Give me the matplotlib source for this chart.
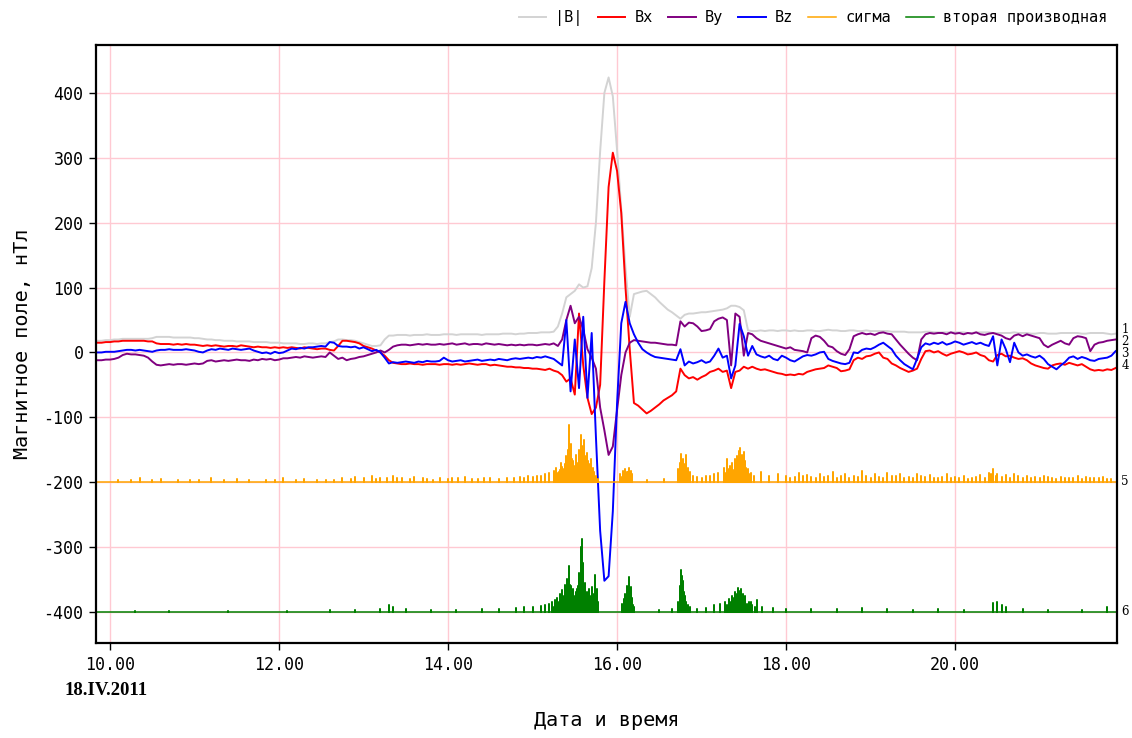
import numpy as np
import matplotlib
matplotlib.use("Agg")
import matplotlib.pyplot as plt

# Sampling of the magnetometer components: start time and step, hours
T_START = 9.85
T_STEP = 0.05

# Total field |B|, nT (one row = one hour of samples)
B_ABS = [
    18, 18, 19, 19, 20, 20, 21, 21, 21, 21, 21, 21, 21, 22, 24, 24, 24, 24, 23, 23,
    23, 23, 23, 22, 22, 21, 20, 20, 19, 19, 18, 18, 18, 17, 17, 17, 17, 16, 16, 16,
    16, 15, 15, 15, 14, 14, 14, 14, 13, 13, 14, 14, 13, 14, 14, 16, 17, 20, 20, 19,
    19, 18, 16, 14, 12, 10, 10, 11, 20, 26, 26, 27, 27, 27, 26, 27, 27, 27, 28, 27,
    27, 27, 28, 28, 28, 27, 28, 28, 28, 28, 28, 27, 28, 28, 28, 28, 29, 29, 29, 28,
    29, 29, 30, 30, 30, 31, 31, 31, 32, 40, 60, 85, 90, 95, 105, 100, 102, 130, 200, 310,
    400, 424, 395, 312, 220, 130, 55, 90, 92, 94, 95, 90, 85, 78, 72, 66, 62, 57, 52, 58,
    60, 60, 61, 62, 62, 63, 64, 65, 66, 68, 72, 72, 70, 65, 34, 33, 33, 34, 33, 34,
    34, 33, 34, 34, 33, 34, 33, 33, 34, 34, 33, 33, 34, 35, 34, 34, 33, 33, 34, 34,
    33, 33, 34, 33, 33, 33, 33, 33, 32, 32, 32, 32, 31, 31, 31, 31, 32, 32, 31, 31,
    31, 31, 31, 31, 31, 31, 30, 30, 31, 31, 31, 31, 30, 30, 30, 30, 30, 31, 30, 30,
    30, 29, 29, 30, 30, 29, 29, 29, 30, 30, 30, 30, 30, 29, 29, 30, 30, 30, 30, 29,
    28, 29,
]

BX = [
    15, 15, 16, 16, 17, 17, 18, 18, 18, 18, 18, 18, 17, 17, 14, 13, 13, 13, 12, 13,
    12, 13, 12, 12, 11, 10, 11, 10, 11, 10, 9, 10, 10, 9, 11, 10, 9, 8, 9, 8,
    8, 7, 8, 7, 8, 7, 8, 7, 6, 8, 7, 6, 5, 6, 6, 4, 3, 10, 18, 18,
    17, 16, 14, 10, 8, 6, 3, 0, -5, -12, -16, -17, -18, -18, -17, -18, -18, -19, -18, -18,
    -18, -19, -18, -18, -19, -18, -19, -18, -17, -18, -19, -18, -18, -20, -19, -20, -21, -22, -22, -23,
    -23, -24, -24, -25, -25, -26, -27, -25, -28, -30, -35, -45, -40, -65, 60, -20, -70, -95, -85, -50,
    110, 255, 308, 280, 215, 100, 5, -78, -82, -88, -94, -90, -85, -80, -74, -70, -66, -60, -25, -35,
    -40, -38, -42, -38, -35, -30, -28, -25, -30, -28, -55, -30, -28, -22, -25, -22, -25, -27, -26, -28,
    -30, -32, -33, -35, -34, -35, -33, -34, -30, -28, -26, -25, -24, -20, -22, -24, -29, -28, -26, -12,
    -8, -10, -6, -5, -2, 0, -8, -10, -17, -20, -24, -27, -30, -28, -25, -10, 2, 3, 0, 2,
    -2, -5, -2, 0, 2, 0, -3, -2, 0, -4, -6, -12, -14, -4, -2, -6, -5, -8, -10, -9,
    -12, -17, -20, -22, -24, -25, -20, -18, -17, -19, -16, -18, -20, -18, -22, -26, -28, -27, -28, -26,
    -27, -24,
]

BY = [
    -12, -12, -11, -11, -10, -8, -4, -2, -3, -3, -4, -5, -8, -14, -19, -20, -19, -18, -19, -18,
    -18, -19, -18, -17, -18, -17, -13, -12, -14, -13, -12, -13, -12, -11, -12, -12, -13, -11, -12, -10,
    -11, -10, -12, -11, -9, -9, -8, -7, -8, -6, -7, -8, -7, -6, -7, 0, -5, -10, -8, -12,
    -10, -9, -7, -6, -4, -2, 0, 3, 0, 4, 9, 11, 12, 12, 11, 12, 13, 12, 13, 12,
    12, 13, 12, 13, 14, 12, 13, 14, 12, 13, 13, 12, 14, 13, 12, 13, 12, 11, 12, 11,
    12, 11, 12, 12, 11, 12, 13, 12, 14, 10, 20, 50, 72, 45, 55, 35, 5, -8, -25, -85,
    -120, -158, -145, -89, -35, 0, 15, 19, 18, 17, 16, 15, 15, 14, 13, 12, 12, 11, 48, 40,
    46, 45, 40, 33, 34, 36, 48, 52, 54, 50, -20, 60, 55, -5, 30, 28, 22, 18, 16, 14,
    12, 10, 8, 6, 8, 4, 3, 2, 0, 22, 26, 24, 18, 10, 8, 2, -2, -4, 5, 25,
    28, 30, 28, 29, 27, 30, 31, 29, 28, 20, 12, 5, -2, -8, -12, 20, 28, 30, 29, 30,
    30, 28, 31, 29, 30, 28, 30, 29, 31, 28, 27, 29, 30, 28, 26, 22, 20, 26, 28, 25,
    28, 26, 24, 22, 12, 8, 12, 15, 18, 14, 12, 22, 25, 24, 22, 2, 12, 15, 16, 18,
    19, 20,
]

BZ = [
    0, 0, 1, 1, 1, 2, 3, 4, 4, 3, 4, 3, 2, 1, 3, 4, 4, 5, 4, 4,
    4, 5, 4, 3, 1, 0, 3, 5, 4, 6, 5, 4, 6, 5, 4, 5, 6, 3, 1, -1,
    0, -2, 1, -1, 0, 3, 6, 5, 7, 6, 8, 8, 9, 10, 9, 16, 15, 10, 9, 9,
    8, 9, 6, 8, 5, 2, 4, 0, -8, -17, -15, -16, -15, -14, -15, -16, -14, -15, -13, -14,
    -14, -13, -8, -12, -14, -13, -12, -14, -13, -12, -11, -13, -12, -11, -12, -10, -11, -12, -10, -9,
    -10, -9, -8, -9, -7, -8, -6, -8, -10, -15, -20, 50, -60, 20, -55, 55, -70, 30, -130, -275,
    -352, -345, -245, -79, 45, 78, 45, 28, 15, 5, 0, -4, -7, -8, -9, -10, -11, -12, 5, -20,
    -14, -17, -15, -12, -16, -14, -5, 6, -8, -5, -40, -20, 44, 25, -5, 10, -3, -6, -8, -5,
    -10, -12, -5, -8, -12, -14, -10, -6, -4, -5, -3, 0, 1, -10, -13, -15, -17, -18, -16, 0,
    -1, 4, 6, 5, 8, 12, 15, 10, 5, -5, -12, -18, -22, -26, -10, 8, 14, 12, 15, 13,
    16, 12, 14, 17, 15, 12, 14, 16, 13, 15, 12, 10, 25, -20, 20, 5, -15, 15, 0, -5,
    -3, -6, -8, -5, -10, -18, -22, -26, -20, -15, -8, -6, -10, -7, -9, -12, -13, -10, -9, -8,
    -5, 2,
]

# "сигма": baseline level and bursts (time, h / value, nT)
SIGMA_BASE = -200
SIGMA_T = [
    10.10, 10.25, 10.35, 10.50, 10.60, 10.80, 10.95, 11.05, 11.20, 11.35, 11.50, 11.65,
    11.85, 11.95, 12.05, 12.20, 12.30, 12.45, 12.55, 12.65, 12.75, 12.85, 12.90, 13.00,
    13.10, 13.15, 13.20, 13.28, 13.35, 13.40, 13.45, 13.55, 13.60, 13.70, 13.75, 13.82,
    13.90, 14.00, 14.05, 14.12, 14.20, 14.28, 14.35, 14.42, 14.50, 14.60, 14.70, 14.78,
    14.85, 14.90, 14.95, 15.00, 15.05, 15.10, 15.15, 15.20,
    15.25, 15.26, 15.28, 15.29, 15.31, 15.32, 15.34, 15.35, 15.37, 15.38, 15.40, 15.41,
    15.42, 15.43, 15.44, 15.45, 15.46, 15.47, 15.48, 15.49, 15.50, 15.51, 15.52, 15.53,
    15.54, 15.55, 15.56, 15.57, 15.58, 15.59, 15.60, 15.61, 15.62, 15.63, 15.64, 15.65,
    15.66, 15.67, 15.68, 15.69, 15.70, 15.71, 15.72, 15.73, 15.75, 15.77,
    16.04, 16.05, 16.07, 16.09, 16.10, 16.11, 16.12, 16.13, 16.14, 16.15, 16.16, 16.17,
    16.18, 16.35, 16.55,
    16.72, 16.73, 16.74, 16.75, 16.76, 16.77, 16.78, 16.79, 16.80, 16.81, 16.82, 16.83,
    16.84, 16.85, 16.86, 16.90, 16.95, 17.00, 17.05, 17.10, 17.15, 17.20, 17.27, 17.28,
    17.30, 17.31, 17.33, 17.34, 17.36, 17.37, 17.39, 17.40, 17.42, 17.43, 17.44, 17.45,
    17.46, 17.47, 17.48, 17.49, 17.50, 17.51, 17.52, 17.53, 17.55, 17.57, 17.58, 17.62,
    17.70, 17.80, 17.90,
    18.00, 18.05, 18.10, 18.15, 18.20, 18.25, 18.30, 18.35, 18.40, 18.45, 18.50, 18.55,
    18.60, 18.65, 18.70, 18.75, 18.80, 18.85, 18.90, 18.95, 19.00, 19.05, 19.10, 19.15,
    19.20, 19.25, 19.30, 19.35, 19.40, 19.45, 19.50, 19.55, 19.60, 19.65, 19.70, 19.75,
    19.80, 19.85, 19.90, 19.95, 20.00, 20.05, 20.10, 20.15, 20.20, 20.25, 20.30, 20.35,
    20.40, 20.42, 20.45, 20.48, 20.50, 20.55, 20.60, 20.65, 20.70, 20.75, 20.80, 20.85,
    20.90, 20.95, 21.00, 21.05, 21.10, 21.15, 21.20, 21.25, 21.30, 21.35, 21.40, 21.45,
    21.50, 21.55, 21.60, 21.65, 21.70, 21.75, 21.80, 21.85,
]
SIGMA_V = [
    -196, -197, -194, -197, -195, -197, -196, -196, -194, -197, -195, -196,
    -196, -197, -194, -196, -195, -197, -196, -196, -194, -195, -192, -194,
    -190, -195, -193, -194, -191, -193, -194, -195, -192, -194, -195, -196,
    -193, -195, -194, -193, -192, -195, -195, -194, -194, -195, -193, -194,
    -192, -193, -190, -192, -191, -190, -188, -186,
    -183, -190, -178, -186, -185, -182, -170, -176, -180, -172, -160, -168,
    -150, -112, -155, -141, -175, -165, -168, -175, -180, -158, -165, -170,
    -172, -150, -160, -128, -150, -145, -170, -135, -165, -160, -175, -155,
    -168, -172, -180, -165, -185, -178, -188, -184, -190, -195,
    -188, -192, -183, -186, -180, -190, -185, -184, -178, -190, -183, -186,
    -188, -196, -195,
    -180, -185, -170, -175, -156, -168, -165, -180, -175, -172, -158, -182,
    -178, -190, -185, -190, -192, -193, -191, -190, -188, -186, -178, -186,
    -165, -180, -182, -175, -170, -182, -165, -172, -160, -170, -152, -165,
    -148, -160, -158, -175, -153, -168, -170, -178, -180, -188, -186, -190,
    -184, -190, -188,
    -190, -193, -192, -186, -191, -189, -192, -194, -187, -192, -190, -185,
    -193, -191, -188, -194, -190, -192, -183, -190, -193, -188, -192, -194,
    -186, -191, -190, -188, -193, -192, -194, -187, -191, -192, -189, -194,
    -193, -192, -188, -194, -192, -193, -190, -195, -193, -192, -189, -194,
    -186, -188, -180, -190, -187, -192, -189, -193, -188, -191, -194, -190,
    -193, -192, -194, -191, -192, -194, -195, -192, -194, -193, -193, -191,
    -195, -192, -194, -194, -193, -192, -195, -195,
]

# "вторая производная": baseline level and bursts
DERIV_BASE = -400
DERIV_T = [
    10.30, 10.70, 11.40, 12.10, 12.60, 12.90, 13.20, 13.30, 13.35, 13.50, 13.80, 14.10,
    14.40, 14.60, 14.80, 14.90, 15.00, 15.10, 15.15, 15.20,
    15.23, 15.24, 15.26, 15.27, 15.29, 15.30, 15.32, 15.33, 15.35, 15.36, 15.37, 15.38,
    15.39, 15.40, 15.41, 15.42, 15.43, 15.44, 15.45, 15.46, 15.47, 15.48, 15.49, 15.50,
    15.51, 15.52, 15.53, 15.54, 15.55, 15.56, 15.57, 15.58, 15.59, 15.60, 15.61, 15.62,
    15.63, 15.64, 15.65, 15.66, 15.67, 15.68, 15.69, 15.70, 15.71, 15.72, 15.73, 15.74,
    15.75, 15.76, 15.77, 15.78,
    16.06, 16.07, 16.08, 16.09, 16.10, 16.11, 16.12, 16.13, 16.14, 16.15, 16.16, 16.17,
    16.18, 16.19, 16.20, 16.50, 16.65,
    16.72, 16.73, 16.74, 16.75, 16.76, 16.77, 16.78, 16.79, 16.80, 16.81, 16.82, 16.84,
    16.86, 16.95, 17.05, 17.15, 17.22, 17.28, 17.30, 17.32, 17.34, 17.36, 17.38, 17.40,
    17.41, 17.43, 17.44, 17.46, 17.47, 17.49, 17.50, 17.52, 17.54, 17.56, 17.58, 17.60,
    17.63, 17.66, 17.72, 17.85, 18.00,
    18.30, 18.60, 18.90, 19.20, 19.50, 19.80, 20.10, 20.45, 20.50, 20.55, 20.60, 20.80,
    21.10, 21.50, 21.80,
]
DERIV_V = [
    -398, -398, -398, -398, -397, -397, -395, -390, -392, -396, -397, -397,
    -396, -396, -394, -393, -392, -391, -389, -388,
    -385, -392, -382, -388, -378, -385, -372, -380, -367, -378, -375, -370,
    -358, -365, -350, -360, -329, -358, -360, -372, -368, -365, -375, -378,
    -370, -372, -365, -360, -340, -355, -300, -287, -340, -325, -362, -355,
    -375, -370, -378, -385, -365, -375, -380, -362, -385, -380, -372, -343,
    -378, -365, -385, -390,
    -388, -392, -380, -385, -372, -378, -360, -370, -346, -368, -362, -380,
    -378, -390, -392, -397, -396,
    -385, -388, -370, -360, -335, -345, -352, -370, -375, -382, -385, -390,
    -392, -396, -394, -390, -388, -385, -390, -380, -384, -375, -378, -370,
    -372, -363, -375, -368, -365, -372, -380, -375, -388, -385, -385, -390,
    -392, -382, -392, -394, -396,
    -395, -396, -394, -396, -397, -396, -397, -386, -384, -390, -393, -395,
    -397, -397, -392,
]

SERIES_NAMES = ["|B|", "Bx", "By", "Bz", "сигма", "вторая производная"]
SERIES_COLORS = ["#d3d3d3", "#ff0000", "#800080", "#0000ff", "#ffa500", "#008000"]

X_TICKS = [10, 12, 14, 16, 18, 20]
X_TICK_LABELS = ["10.00", "12.00", "14.00", "16.00", "18.00", "20.00"]
Y_TICKS = [-400, -300, -200, -100, 0, 100, 200, 300, 400]
X_RANGE = (9.834, 21.917)
Y_RANGE = (-448, 474)

CURVE_NUMBERS = ["1", "2", "3", "4", "5", "6"]
CURVE_NUMBER_LEVELS = [36, 17, -2, -20, -199, -400]

MONO = "DejaVu Sans Mono"


def burst_trace(base, times, values, t0, t1):
    """Baseline with vertical excursions to each burst value."""
    order = np.argsort(times)
    t = np.asarray(times, dtype=float)[order]
    v = np.asarray(values, dtype=float)[order]
    base_col = np.full_like(v, base)
    xs = np.repeat(t, 3)
    ys = np.column_stack([base_col, v, base_col]).ravel()
    xs = np.concatenate([[t0], xs, [t1]])
    ys = np.concatenate([[base], ys, [base]])
    return xs, ys


fig = plt.figure(figsize=(11.32, 7.38), dpi=100)
ax = fig.add_axes([0.0848, 0.1287, 0.902, 0.8103])

time = T_START + T_STEP * np.arange(len(BX))

handles = []
for vals, name, col in zip([B_ABS, BX, BY, BZ], SERIES_NAMES[:4], SERIES_COLORS[:4]):
    (h,) = ax.plot(time, vals, color=col, lw=1.4, label=name)
    handles.append(h)

sx, sy = burst_trace(SIGMA_BASE, SIGMA_T, SIGMA_V, X_RANGE[0], X_RANGE[1])
(h,) = ax.plot(sx, sy, color=SERIES_COLORS[4], lw=1.1, label=SERIES_NAMES[4])
handles.append(h)
dx, dy = burst_trace(DERIV_BASE, DERIV_T, DERIV_V, X_RANGE[0], X_RANGE[1])
(h,) = ax.plot(dx, dy, color=SERIES_COLORS[5], lw=1.1, label=SERIES_NAMES[5])
handles.append(h)

ax.set_xlim(*X_RANGE)
ax.set_ylim(*Y_RANGE)
ax.set_xticks(X_TICKS)
ax.set_xticklabels(X_TICK_LABELS)
ax.set_yticks(Y_TICKS)
ax.set_yticklabels([str(v) for v in Y_TICKS])
ax.grid(True, color="#ffc9d2", lw=1.0)
ax.set_axisbelow(True)
ax.tick_params(direction="out", length=5, width=1, labelsize=12, pad=4)
for lab in ax.get_xticklabels() + ax.get_yticklabels():
    lab.set_family(MONO)
for sp in ax.spines.values():
    sp.set_linewidth(1.6)

ax.set_ylabel("Магнитное поле, нТл", family=MONO, fontsize=14.5, labelpad=8)
ax.set_xlabel("Дата и время", family=MONO, fontsize=14.5, labelpad=27)

fig.text(0.057, 0.065, "18.IV.2011", family="Liberation Serif", weight="bold",
         fontsize=13.5, va="center", ha="left")

for num, lvl in zip(CURVE_NUMBERS, CURVE_NUMBER_LEVELS):
    ax.annotate(num, xy=(1.0, lvl), xycoords=("axes fraction", "data"),
                xytext=(3, 0), textcoords="offset points", va="center", ha="left",
                family="DejaVu Serif", fontsize=8.5, annotation_clip=False)

fig.legend(handles=handles, loc="upper right", bbox_to_anchor=(0.99, 1.005), ncol=6,
           frameon=False, prop={"family": MONO, "size": 11}, handlelength=1.8,
           handletextpad=0.6, columnspacing=1.0)

fig.savefig("out.png", dpi=100)
